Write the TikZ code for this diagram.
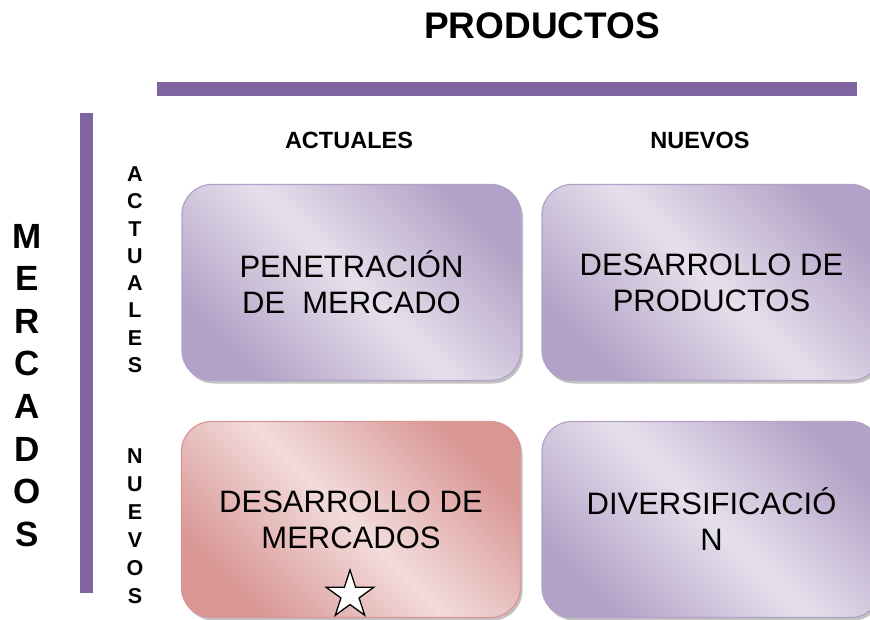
\documentclass[tikz,border=0pt]{standalone}
\usepackage{fontspec}
\setmainfont{Liberation Sans}
\usetikzlibrary{shadows,shapes.geometric}

\definecolor{barra}{HTML}{8064A2}
\definecolor{lilaoscuro}{HTML}{B3A2C7}
\definecolor{lilaclaro}{HTML}{E6E0EC}
\definecolor{rojooscuro}{HTML}{D99694}
\definecolor{rojoclaro}{HTML}{F2DCDB}

\tikzset{
  cuadro/.style={rounded corners=30pt, minimum width=339pt, minimum height=196pt,
    inner sep=0pt, align=center, font=\fontsize{31}{36}\selectfont, line width=1.2pt,
    drop shadow={shadow xshift=2pt, shadow yshift=-3pt, opacity=0.4, fill=black!60}},
  lila/.style={cuadro, draw=lilaoscuro, top color=lilaoscuro, bottom color=lilaoscuro,
    middle color=lilaclaro, shading angle=-45},
  rojo/.style={cuadro, draw=rojooscuro, top color=rojooscuro, bottom color=rojooscuro,
    middle color=rojoclaro, shading angle=-45},
  letra/.style={font=\fontsize{21.5}{21.5}\selectfont\bfseries, inner sep=0pt},
  cabecera/.style={font=\fontsize{23.5}{23.5}\selectfont\bfseries, inner sep=0pt},
}

\begin{document}
\begin{tikzpicture}[x=1pt,y=-1pt]
\useasboundingbox (0,0) rectangle (870,619);

% titulos
\node[font=\fontsize{37}{37}\selectfont\bfseries, inner sep=0pt] (productos) at (542,26) {PRODUCTOS};
\node[cabecera] (colactuales) at (349,140) {ACTUALES};
\node[cabecera] (colnuevos) at (700,140) {NUEVOS};

% barras
\fill[barra] (157,82) rectangle (857,96);
\fill[barra] (80,113) rectangle (93,593);

% letras verticales
\foreach \l [count=\i from 0] in {M,E,R,C,A,D,O,S}
  \node[font=\fontsize{35}{35}\selectfont\bfseries, inner sep=0pt] (merc\i) at (27,236+42.6*\i) {\l};
\foreach \l [count=\i from 0] in {A,C,T,U,A,L,E,S}
  \node[letra] (act\i) at (135,174+27.3*\i) {\l};
\foreach \l [count=\i from 0] in {N,U,E,V,O,S}
  \node[letra] (nue\i) at (135,456+28*\i) {\l};

% matriz
\node[lila] (penetracion) at (351.5,282.5) {PENETRACIÓN\\DE\ \ MERCADO};
\node[lila] (desproductos) at (711.5,282.5) {DESARROLLO DE\\PRODUCTOS};
\node[rojo] (desmercados) at (351,519.5) {DESARROLLO DE\\MERCADOS};
\node[lila] (diversificacion) at (711.5,519.5) {DIVERSIFICACIÓ\\N};

\node[star, star points=5, star point ratio=2.618, minimum size=50pt, inner sep=0pt,
  draw, fill=white, line width=1.3pt] (estrella) at (350,595) {};
\end{tikzpicture}
\end{document}
